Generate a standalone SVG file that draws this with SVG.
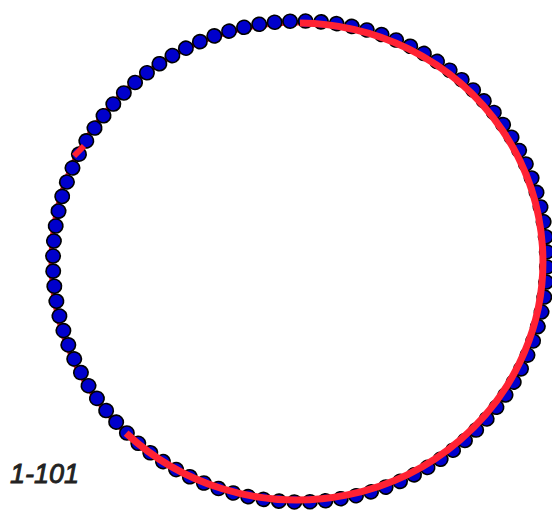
<svg xmlns="http://www.w3.org/2000/svg" xmlns:xlink="http://www.w3.org/1999/xlink" width="552" height="512" viewBox="0 0 552 512">
<style>
.red{fill:none;stroke:#ff2233;}
.dot{fill:#0000cc;stroke:#000;stroke-width:1.6;}
.lbl{font-family:"Liberation Sans",sans-serif;font-size:27px;font-style:italic;font-weight:normal;fill:#222;stroke:#222;stroke-width:0.9;}
</style>
<defs>
<circle id="d" class="dot" cx="0" cy="-240.5" r="7"/>
</defs>
<rect width="552" height="512" fill="#fff"/>
<ellipse class="red" cx="297" cy="261.5" rx="246" ry="238.5" stroke-width="5"/>
<g id="dots" transform="translate(300 261.5) scale(1.027 1)">
<use xlink:href="#d" transform="rotate(-2.3)"/><use xlink:href="#d" transform="rotate(1.3)"/><use xlink:href="#d" transform="rotate(4.9)"/><use xlink:href="#d" transform="rotate(8.5)"/><use xlink:href="#d" transform="rotate(12.1)"/><use xlink:href="#d" transform="rotate(15.7)"/><use xlink:href="#d" transform="rotate(19.3)"/><use xlink:href="#d" transform="rotate(22.9)"/><use xlink:href="#d" transform="rotate(26.5)"/><use xlink:href="#d" transform="rotate(30.1)"/>
<use xlink:href="#d" transform="rotate(33.7)"/><use xlink:href="#d" transform="rotate(37.3)"/><use xlink:href="#d" transform="rotate(40.9)"/><use xlink:href="#d" transform="rotate(44.5)"/><use xlink:href="#d" transform="rotate(48.1)"/><use xlink:href="#d" transform="rotate(51.7)"/><use xlink:href="#d" transform="rotate(55.3)"/><use xlink:href="#d" transform="rotate(58.9)"/><use xlink:href="#d" transform="rotate(62.5)"/><use xlink:href="#d" transform="rotate(66.1)"/>
<use xlink:href="#d" transform="rotate(69.7)"/><use xlink:href="#d" transform="rotate(73.3)"/><use xlink:href="#d" transform="rotate(76.9)"/><use xlink:href="#d" transform="rotate(80.5)"/><use xlink:href="#d" transform="rotate(84.1)"/><use xlink:href="#d" transform="rotate(87.7)"/><use xlink:href="#d" transform="rotate(91.3)"/><use xlink:href="#d" transform="rotate(94.9)"/><use xlink:href="#d" transform="rotate(98.5)"/><use xlink:href="#d" transform="rotate(102.1)"/>
<use xlink:href="#d" transform="rotate(105.7)"/><use xlink:href="#d" transform="rotate(109.3)"/><use xlink:href="#d" transform="rotate(112.9)"/><use xlink:href="#d" transform="rotate(116.5)"/><use xlink:href="#d" transform="rotate(120.1)"/><use xlink:href="#d" transform="rotate(123.7)"/><use xlink:href="#d" transform="rotate(127.3)"/><use xlink:href="#d" transform="rotate(130.9)"/><use xlink:href="#d" transform="rotate(134.5)"/><use xlink:href="#d" transform="rotate(138.1)"/>
<use xlink:href="#d" transform="rotate(141.7)"/><use xlink:href="#d" transform="rotate(145.3)"/><use xlink:href="#d" transform="rotate(148.9)"/><use xlink:href="#d" transform="rotate(152.5)"/><use xlink:href="#d" transform="rotate(156.1)"/><use xlink:href="#d" transform="rotate(159.7)"/><use xlink:href="#d" transform="rotate(163.3)"/><use xlink:href="#d" transform="rotate(166.9)"/><use xlink:href="#d" transform="rotate(170.5)"/><use xlink:href="#d" transform="rotate(174.1)"/>
<use xlink:href="#d" transform="rotate(177.7)"/><use xlink:href="#d" transform="rotate(181.3)"/><use xlink:href="#d" transform="rotate(184.9)"/><use xlink:href="#d" transform="rotate(188.5)"/><use xlink:href="#d" transform="rotate(192.1)"/><use xlink:href="#d" transform="rotate(195.7)"/><use xlink:href="#d" transform="rotate(199.3)"/><use xlink:href="#d" transform="rotate(202.9)"/><use xlink:href="#d" transform="rotate(206.5)"/><use xlink:href="#d" transform="rotate(210.1)"/>
<use xlink:href="#d" transform="rotate(213.7)"/><use xlink:href="#d" transform="rotate(217.3)"/><use xlink:href="#d" transform="rotate(220.9)"/><use xlink:href="#d" transform="rotate(224.5)"/><use xlink:href="#d" transform="rotate(228.1)"/><use xlink:href="#d" transform="rotate(231.7)"/><use xlink:href="#d" transform="rotate(235.3)"/><use xlink:href="#d" transform="rotate(238.9)"/><use xlink:href="#d" transform="rotate(242.5)"/><use xlink:href="#d" transform="rotate(246.1)"/>
<use xlink:href="#d" transform="rotate(249.7)"/><use xlink:href="#d" transform="rotate(253.3)"/><use xlink:href="#d" transform="rotate(256.9)"/><use xlink:href="#d" transform="rotate(260.5)"/><use xlink:href="#d" transform="rotate(264.1)"/><use xlink:href="#d" transform="rotate(267.7)"/><use xlink:href="#d" transform="rotate(271.3)"/><use xlink:href="#d" transform="rotate(274.9)"/><use xlink:href="#d" transform="rotate(278.5)"/><use xlink:href="#d" transform="rotate(282.1)"/>
<use xlink:href="#d" transform="rotate(285.7)"/><use xlink:href="#d" transform="rotate(289.3)"/><use xlink:href="#d" transform="rotate(292.9)"/><use xlink:href="#d" transform="rotate(296.5)"/><use xlink:href="#d" transform="rotate(300.1)"/><use xlink:href="#d" transform="rotate(303.7)"/><use xlink:href="#d" transform="rotate(307.3)"/><use xlink:href="#d" transform="rotate(310.9)"/><use xlink:href="#d" transform="rotate(314.5)"/><use xlink:href="#d" transform="rotate(318.1)"/>
<use xlink:href="#d" transform="rotate(321.7)"/><use xlink:href="#d" transform="rotate(325.3)"/><use xlink:href="#d" transform="rotate(328.9)"/><use xlink:href="#d" transform="rotate(332.5)"/><use xlink:href="#d" transform="rotate(336.1)"/><use xlink:href="#d" transform="rotate(339.7)"/><use xlink:href="#d" transform="rotate(343.3)"/><use xlink:href="#d" transform="rotate(346.9)"/><use xlink:href="#d" transform="rotate(350.5)"/><use xlink:href="#d" transform="rotate(354.1)"/>
</g>
<g id="path">
<path class="red" stroke-width="7" d="M300 23 A246 238.5 0 1 1 126.1 433.1"/>
<line class="red" stroke-width="6" x1="74" y1="156" x2="84" y2="146"/>
</g>
<text class="lbl" x="10" y="483">1-101</text>
</svg>
